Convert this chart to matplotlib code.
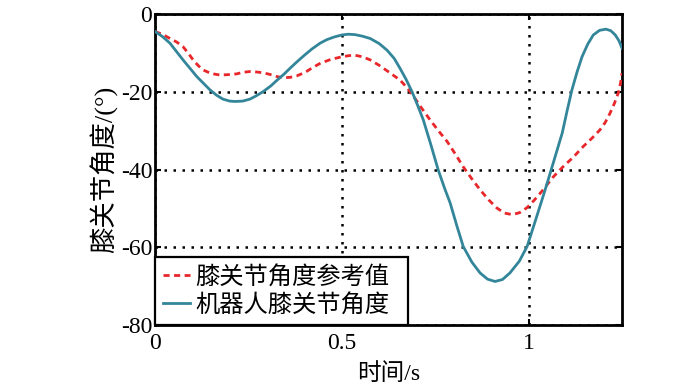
import matplotlib
matplotlib.use('Agg')
import matplotlib.pyplot as plt
from matplotlib import font_manager

# knee angle data
t_ref = [0, 0.02, 0.04, 0.058, 0.075, 0.09, 0.102, 0.115, 0.129, 0.15, 0.174, 0.195,
         0.219, 0.235, 0.254, 0.27, 0.289, 0.31, 0.327, 0.343, 0.361, 0.38, 0.402, 0.42,
         0.442, 0.47, 0.5, 0.52, 0.535, 0.555, 0.576, 0.6, 0.621, 0.64, 0.656, 0.675,
         0.691, 0.712, 0.736, 0.76, 0.782, 0.805, 0.825, 0.848, 0.87, 0.893, 0.915, 0.935,
         0.956, 0.976, 0.996, 1.015, 1.039, 1.065, 1.092, 1.12, 1.146, 1.17, 1.191, 1.205,
         1.218, 1.23, 1.24, 1.246, 1.25]
ang_ref = [-4.5, -5.2, -6.3, -7.2, -8.4, -10.2, -11.8, -13.2, -14.4, -15.3, -15.7, -15.6,
           -15.4, -15.0, -14.8, -14.9, -15.1, -15.6, -16.1, -16.4, -16.3, -15.9, -15.0, -13.9,
           -12.7, -11.7, -11.0, -10.7, -10.6, -11.0, -11.8, -13.2, -14.6, -15.9, -17.0, -19.0,
           -21.0, -24.0, -27.2, -30.2, -32.8, -36.2, -39.3, -42.4, -45.2, -47.8, -49.9, -51.2,
           -51.6, -51.1, -49.8, -47.9, -45.2, -42.0, -39.3, -36.8, -34.1, -31.9, -29.8, -27.9,
           -25.5, -22.9, -20.3, -17.8, -15.2]

t_rob = [0, 0.02, 0.04, 0.075, 0.112, 0.147, 0.165, 0.182, 0.2, 0.214, 0.235, 0.254,
         0.27, 0.289, 0.31, 0.327, 0.345, 0.361, 0.38, 0.4, 0.42, 0.442, 0.46, 0.48,
         0.5, 0.517, 0.535, 0.555, 0.576, 0.6, 0.621, 0.64, 0.656, 0.672, 0.688, 0.703,
         0.718, 0.738, 0.758, 0.775, 0.79, 0.808, 0.825, 0.848, 0.87, 0.89, 0.91, 0.93,
         0.95, 0.975, 0.996, 1.02, 1.044, 1.066, 1.09, 1.103, 1.116, 1.13, 1.143, 1.158,
         1.173, 1.19, 1.207, 1.22, 1.232, 1.242, 1.25]
ang_rob = [-4.5, -5.8, -7.5, -11.8, -16.1, -19.5, -20.9, -21.9, -22.4, -22.5, -22.4, -21.9,
           -21.1, -20.0, -18.5, -17.0, -15.5, -14.0, -12.3, -10.6, -9.0, -7.5, -6.6, -5.9,
           -5.4, -5.2, -5.3, -5.7, -6.3, -7.6, -9.3, -11.4, -14.0, -16.8, -20.0, -23.5,
           -27.2, -33.5, -40.1, -44.8, -48.6, -54.5, -59.8, -63.8, -66.6, -68.2, -68.8, -68.3,
           -66.6, -63.6, -59.8, -52.6, -45.3, -38.3, -30.6, -24.9, -19.5, -14.8, -11.0, -7.8,
           -5.4, -4.2, -3.9, -4.3, -5.4, -6.9, -8.8]

x_ticks = [0, 0.5, 1]
x_ticklabels = ['0', '0.5', '1']
y_ticks = [-80, -60, -40, -20, 0]
labels = ['膝关节角度参考值', '机器人膝关节角度']

# serif digits like the original, CJK glyphs fall back to Noto
serif = 'Liberation Serif'
if 'Liberation' not in font_manager.findfont(serif, fallback_to_default=True):
    serif = 'DejaVu Serif'
plt.rcParams['font.family'] = [serif, 'Noto Sans CJK SC']
plt.rcParams['axes.unicode_minus'] = False

fig = plt.figure(figsize=(7, 3.89), dpi=100)
ax = fig.add_axes([0.2214, 0.1645, 0.6672, 0.7995])

ax.plot(t_ref, ang_ref, color='#e8272b', linestyle=(0, (2.2, 1.6)), linewidth=2.0,
        label=labels[0], zorder=3)
ax.plot(t_rob, ang_rob, color='#33869a', linewidth=2.0, label=labels[1], zorder=3)

ax.set_xlim(0, 1.25)
ax.set_ylim(-80, 0)
ax.set_xticks(x_ticks)
ax.set_xticklabels(x_ticklabels)
ax.set_yticks(y_ticks)
ax.grid(True, color='black', linestyle=(0, (1, 2.6)), linewidth=1.8)
ax.tick_params(direction='in', length=4, width=1.5, labelsize=17,
               top=True, right=True)
ax.tick_params(axis='x', pad=6)
ax.tick_params(axis='y', pad=2)
for lab in ax.get_xticklabels() + ax.get_yticklabels():
    lab.set_fontfamily(serif)
for sp in ax.spines.values():
    sp.set_linewidth(2.0)
    sp.set_color('black')

ax.set_xlabel('时间/s', fontsize=17, labelpad=6)
ax.set_ylabel('膝关节角度/(°)', fontsize=19, labelpad=2)

leg = ax.legend(loc='lower left', bbox_to_anchor=(0, 0, 0.542, 0.22), mode='expand',
                borderaxespad=0, fontsize=17.5, handlelength=1.1, handletextpad=0.2,
                labelspacing=0.2, borderpad=0.35, fancybox=False, framealpha=1,
                edgecolor='black')
leg.get_frame().set_linewidth(1.6)

fig.savefig('out.png', dpi=100)
